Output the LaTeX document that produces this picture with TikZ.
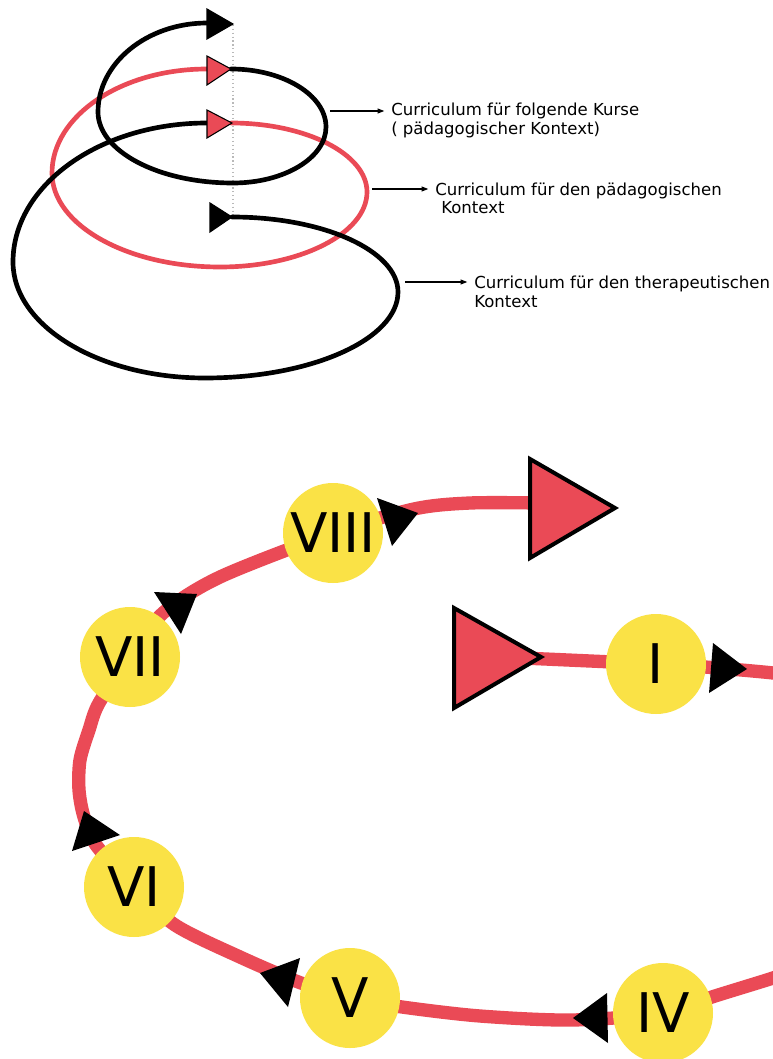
\documentclass[tikz,border=0pt]{standalone}
\usepackage{fontspec}
\usetikzlibrary{arrows.meta}
\newfontfamily\labfont{DejaVu Sans}
\definecolor{sred}{RGB}{234,74,86}
\definecolor{syel}{RGB}{250,226,70}
\begin{document}
\begin{tikzpicture}[x=0.75pt,y=0.75pt,
  spiral/.style={line width=3.5pt, line cap=round},
  tri/.style={draw=black, line width=0.8pt, line join=miter},
  lab/.style={font=\labfont\fontsize{12.4}{14}\selectfont, inner sep=0pt, anchor=base west},
  pointer/.style={line width=0.9pt, -{Triangle[length=5pt,width=3.6pt]}, shorten >=5pt},
  band/.style={line width=10pt, draw=sred},
  numcirc/.style={circle, fill=syel, minimum size=75pt, inner sep=0pt, font=\labfont\fontsize{41}{41}\selectfont},
  bigtri/.style={fill=sred, draw=black, line width=3pt, line join=miter}]
\useasboundingbox (0,0) rectangle (773,-1059);
\clip (0,0) rectangle (773,-1059);
\fill[white] (0,0) rectangle (773,-1059);

% ---------- top spiral ----------
\draw[gray!55, dotted, line width=0.9pt] (233,-25) -- (233,-215);
\draw[spiral, sred] (231,-123)
   .. controls +(75,0) and +(0,38) .. (367,-192)
   .. controls +(0,-41) and +(81,0) .. (220,-267)
   .. controls +(-93,0) and +(0,-52) .. (52,-173)
   .. controls +(0,57) and +(-86,0) .. (207,-69);
\draw[spiral] (232,-217)
   .. controls +(92,0) and +(0,41) .. (398,-292)
   .. controls +(0,-47) and +(107,0) .. (205,-378)
   .. controls +(-106,0) and +(0,-64) .. (13,-262)
   .. controls +(0,77) and +(-107,0) .. (207,-123);
\draw[spiral] (231,-69)
   .. controls +(52,0) and +(0,32) .. (326,-127)
   .. controls +(0,-31) and +(51,0) .. (233,-183)
   .. controls +(-75,0) and +(0,-39) .. (98,-112)
   .. controls +(0,49) and +(-60,0) .. (207,-23);

\filldraw[tri, fill=black] (207,-9) -- (233,-24) -- (207,-39) -- cycle;
\filldraw[tri, fill=sred] (207,-56) -- (231,-69) -- (207,-85) -- cycle;
\filldraw[tri, fill=sred] (207,-110) -- (232,-123) -- (207,-138) -- cycle;
\filldraw[tri, fill=black] (210,-203) -- (232,-217) -- (210,-232) -- cycle;

% labels
\node[lab] (l1a) at (391,-116) {Curriculum für folgende Kurse};
\node[lab] (l1b) at (391,-135) {( pädagogischer Kontext)};
\node[lab] (l2a) at (435,-196) {Curriculum für den pädagogischen};
\node[lab] (l2b) at (441,-214) {Kontext};
\node[lab] (l3a) at (474,-288) {Curriculum für den therapeutischen};
\node[lab] (l3b) at (474,-307) {Kontext};
\coordinate (a1) at (330,-111);
\coordinate (a2) at (372,-189);
\coordinate (a3) at (405,-282);
\draw[pointer] (a1) -- (a1 -| l1a.west);
\draw[pointer] (a2) -- (a2 -| l2a.west);
\draw[pointer] (a3) -- (a3 -| l3a.west);

% ---------- bottom spiral ----------
\coordinate (c1) at (656,-664);
\coordinate (c4) at (663,-1013);
\coordinate (c5) at (350,-998);
\coordinate (c6) at (134,-887);
\coordinate (c7) at (130,-657);
\coordinate (c8) at (333,-533);

\draw[band] plot[smooth] coordinates {(500,-657) (c1) (705,-667) (773,-673) (800,-678)};
\draw[band] plot[smooth] coordinates {(810,-965) (773,-978) (715,-996) (c4) (572,-1020)
  (480,-1016) (402,-1007) (c5) (301,-983) (240,-957) (175,-925) (c6) (96,-845) (84,-817)
  (79,-790) (80,-760) (89,-730) (99,-703) (c7) (163,-613) (220,-577) (c8) (414,-509)
  (470,-503) (540,-503)};

\node[numcirc] (n1) at (c1) {I};
\node[numcirc] (n4) at (c4) {IV};
\node[numcirc] (n5) at (c5) {V};
\node[numcirc] (n6) at (c6) {VI};
\node[numcirc] (n7) at (c7) {VII};
\node[numcirc] (n8) at (c8) {VIII};

\fill (377,-498) -- (418,-513) -- (392,-546) -- cycle;
\fill (154,-592) -- (197,-594) -- (181,-634) -- cycle;
\fill (84,-811) -- (120,-835) -- (72,-851) -- cycle;
\fill (300,-958) -- (260,-973) -- (288,-1007) -- cycle;
\fill (607,-993) -- (573,-1018) -- (608,-1043) -- cycle;
\fill (713,-643) -- (747,-669) -- (709,-693) -- cycle;

\filldraw[bigtri] (530,-459) -- (615,-508) -- (530,-558) -- cycle;
\filldraw[bigtri] (454,-608) -- (541,-657) -- (454,-708) -- cycle;
\end{tikzpicture}
\end{document}
